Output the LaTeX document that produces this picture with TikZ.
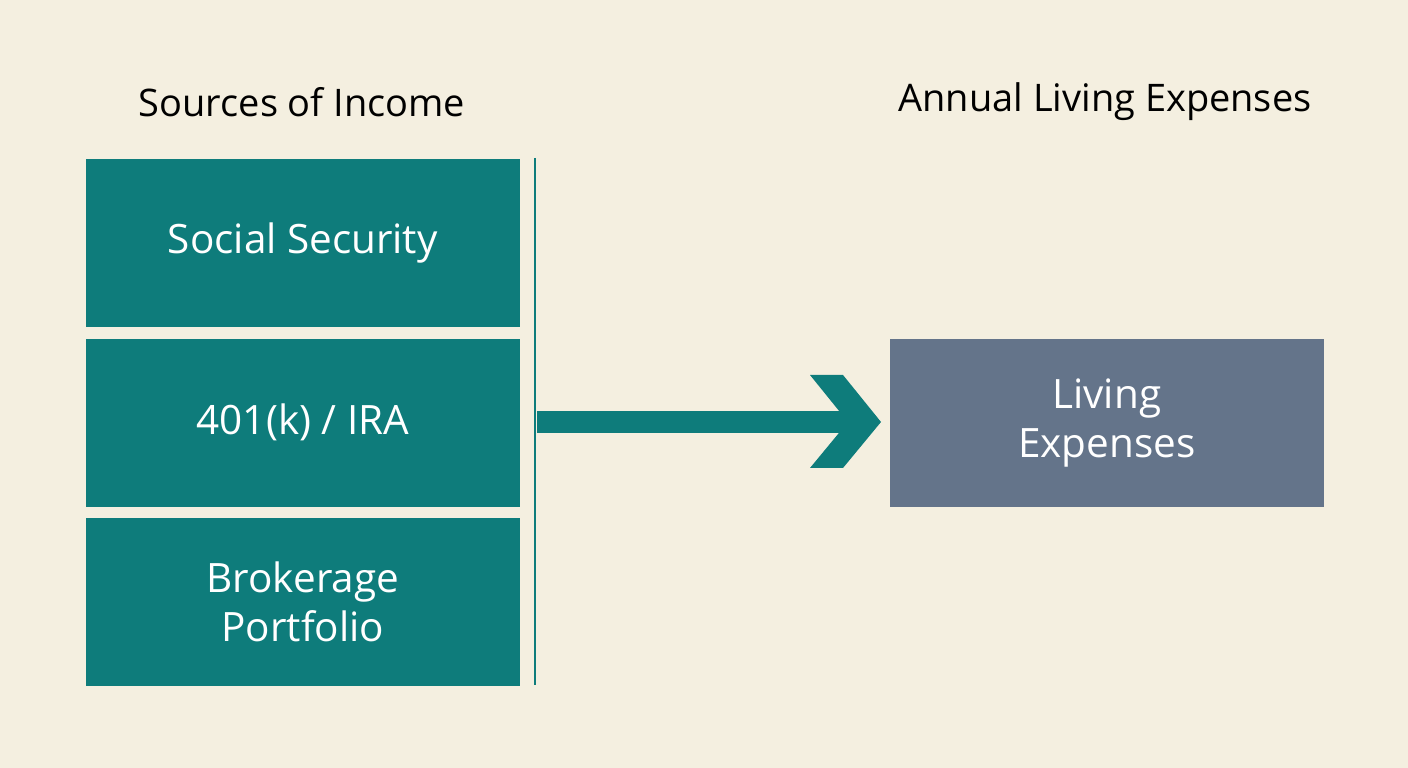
\documentclass[tikz,border=0pt]{standalone}
\usepackage{fontspec}
\setmainfont{Open Sans}
\usetikzlibrary{positioning}
\definecolor{bg}{HTML}{F4EFE0}
\definecolor{tealbox}{HTML}{0E7C7B}
\definecolor{slatebox}{HTML}{64748A}
\begin{document}
\begin{tikzpicture}[x=0.01cm,y=-0.01cm,line join=round]
\tikzset{src/.style={fill=tealbox,draw=none,minimum width=4.34cm,minimum height=1.68cm,inner sep=0pt,text=white,font=\fontsize{11.5}{14}\selectfont,align=center},
  ttl/.style={font=\fontsize{10.8}{13}\selectfont,text=black}}
\fill[bg] (0,0) rectangle (1408,768);
\node[ttl] (tl) at (302,102) {Sources of Income};
\node[ttl] (tr) at (1105,102) {Annual Living Expenses};
\node[src,anchor=north west] (ss) at (85,158) {Social Security};
\node[src,anchor=north west] (ira) at (85,338) {401(k) / IRA};
\node[src,anchor=north west] (bp) at (85,517) {Brokerage\\Portfolio};
\node[src,anchor=north west,fill=slatebox] (le) at (889,338) {Living\\Expenses};
\draw[tealbox,line width=0.7pt] (535,158) -- (535,685);
% arrow
\fill[tealbox] (537,411) rectangle (850,433);
\fill[tealbox] (810,375) -- (843,375) -- (881,422) -- (843,468) -- (810,468) -- (848,422) -- cycle;
\end{tikzpicture}
\end{document}
